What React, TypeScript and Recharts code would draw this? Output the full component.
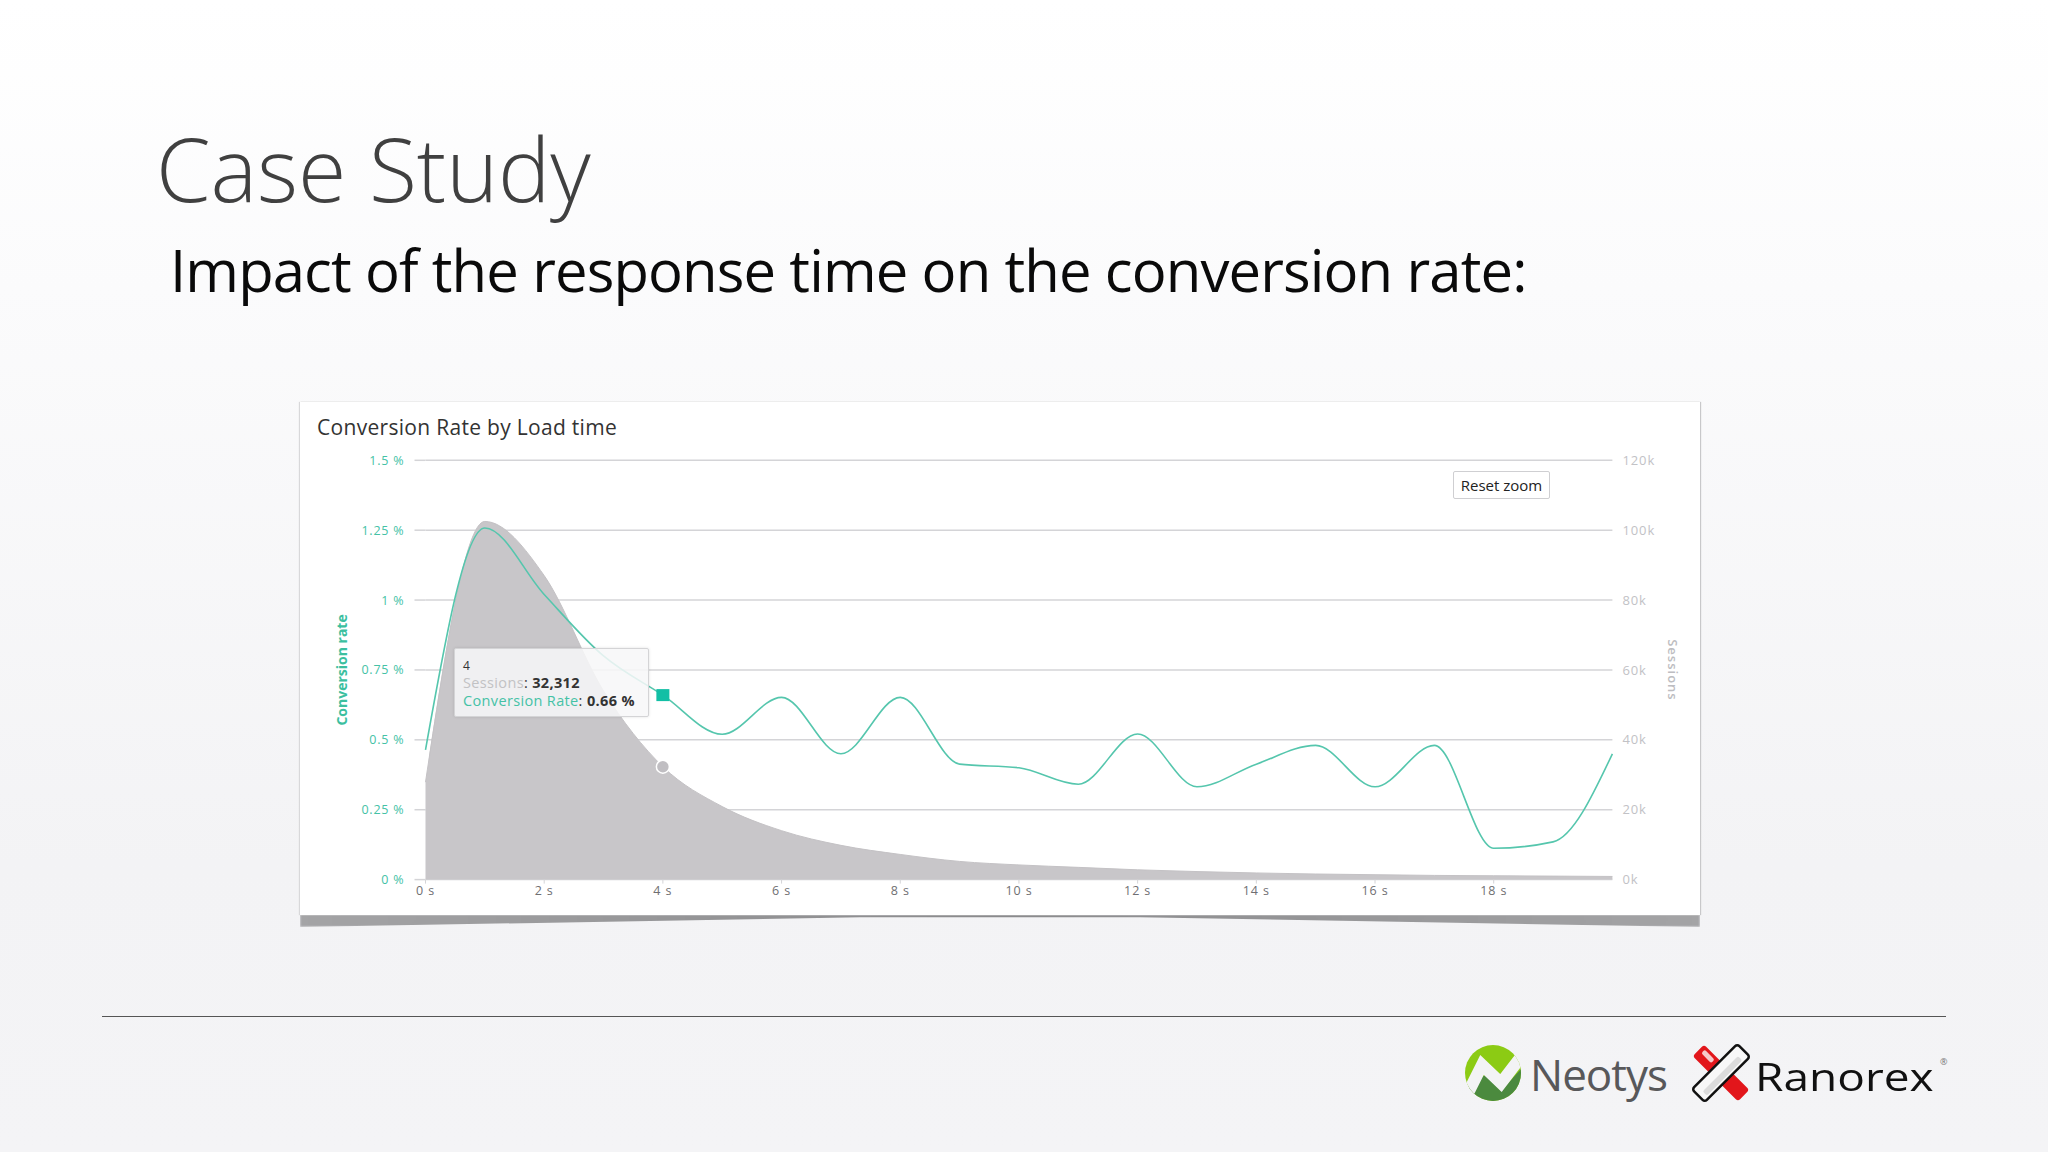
import React from 'react';
import {
  ComposedChart,
  Area,
  Line,
  CartesianGrid,
  XAxis,
  YAxis,
  Tooltip,
} from 'recharts';

const seconds = [0, 1, 2, 3, 4, 5, 6, 7, 8, 9, 10, 11, 12, 13, 14, 15, 16, 17, 18, 19, 20];
const conversionRate = [
  0.464, 1.258, 1.02, 0.8, 0.66, 0.52, 0.652, 0.45, 0.652, 0.413, 0.4, 0.341, 0.521, 0.332,
  0.413, 0.48, 0.332, 0.48, 0.112, 0.135, 0.45,
];
const sessions = [
  27900, 102500, 87000, 54000, 32312, 20900, 14000, 9800, 7200, 5200, 4200, 3500, 2800, 2300,
  1900, 1600, 1400, 1200, 1100, 1000, 900,
];
const xTicks = [0, 2, 4, 6, 8, 10, 12, 14, 16, 18];
const rateTicks = [0, 0.25, 0.5, 0.75, 1, 1.25, 1.5];
const sessionTicks = [0, 20000, 40000, 60000, 80000, 100000, 120000];

const data = seconds.map((s, i) => ({
  s,
  rate: conversionRate[i],
  sessions: sessions[i],
}));

const font = '"Open Sans", sans-serif';
const teal = '#45c2a6';
const gridColor = '#d4d4d7';

const abs = (left: number, top: number): React.CSSProperties => ({
  position: 'absolute',
  left,
  top,
  whiteSpace: 'nowrap',
  fontFamily: font,
});

const ChartTooltip = ({ payload }: any) => {
  const row = payload && payload[0] ? payload[0].payload : data[4];
  return (
    <div
      style={{
        width: 195,
        height: 69,
        boxSizing: 'border-box',
        padding: '9px 0 0 8px',
        background: 'rgba(247,247,248,0.86)',
        border: '1px solid #d4d4d6',
        borderRadius: 2,
        boxShadow: '0 0 3px rgba(0,0,0,0.12)',
        fontFamily: font,
        fontSize: 14.5,
        letterSpacing: 0.35,
        lineHeight: '17.5px',
        color: '#333',
        whiteSpace: 'nowrap',
      }}
    >
      <div style={{ fontSize: 12, lineHeight: '16px' }}>{row.s}</div>
      <div>
        <span style={{ color: '#c2c2c4' }}>Sessions</span>:{' '}
        <b>{row.sessions.toLocaleString('en-US')}</b>
      </div>
      <div>
        <span style={{ color: teal }}>Conversion Rate</span>: <b>{row.rate} %</b>
      </div>
    </div>
  );
};

const SquareDot = ({ cx, cy }: any) => (
  <rect x={cx - 6.5} y={cy - 6} width={13} height={12} fill="#12bfa5" stroke="none" />
);

const NeotysMark = () => (
  <svg style={{ position: 'absolute', left: 1465, top: 1045 }} width={56} height={56} viewBox="0 0 56 56">
    <defs>
      <clipPath id="neo">
        <circle cx={28} cy={28} r={28} />
      </clipPath>
    </defs>
    <g clipPath="url(#neo)">
      <rect width={56} height={56} fill="#8ccb14" />
      <polygon points="0,44 20,30 36,46 56,24 56,56 0,56" fill="#4b8a3e" />
      <polyline points="4,46 17,20 36,38 56,12" fill="none" stroke="#f3f3f5" strokeWidth={12} />
    </g>
  </svg>
);

const RanorexMark = () => (
  <svg style={{ position: 'absolute', left: 1691, top: 1043 }} width={60} height={60} viewBox="0 0 60 60">
    <g transform="rotate(45 30 30)">
      <rect x={-2} y={22} width={64} height={16} rx={3} fill="#e2161b" />
      <rect x={2} y={25} width={14} height={5} rx={2} fill="#f6c9ca" />
    </g>
    <g transform="rotate(-45 30 30)">
      <rect x={-2} y={21} width={64} height={18} rx={3} fill="#f8f8f8" stroke="#111" strokeWidth={2.5} />
      <rect x={4} y={30} width={50} height={6} rx={2} fill="#dcdcdc" />
    </g>
  </svg>
);

export default function App() {
  return (
    <div
      style={{
        position: 'absolute',
        left: 0,
        top: 0,
        width: 2048,
        height: 1152,
        overflow: 'hidden',
        background: 'linear-gradient(#ffffff 0%, #fbfbfc 25%, #f3f3f5 75%, #f4f4f6 100%)',
      }}
    >
      <div style={{ ...abs(156, 108), fontSize: 88, fontWeight: 300, color: '#404040', letterSpacing: -0.1 }}>
        Case Study
      </div>
      <div style={{ ...abs(170, 230), fontSize: 58, letterSpacing: -0.88, color: '#0a0a0a' }}>
        Impact of the response time on the conversion rate:
      </div>

      {/* card with the skewed shadow under it */}
      <div
        style={{
          position: 'absolute',
          left: 300,
          top: 914,
          width: 1400,
          height: 13,
          background: 'linear-gradient(90deg, #a4a4a6, #8a8a8c 50%, #a4a4a6)',
          clipPath: 'polygon(0 0, 100% 0, 100% 100%, 60% 25%, 40% 25%, 0 100%)',
          filter: 'blur(0.8px)',
        }}
      />
      <div
        style={{
          position: 'absolute',
          left: 300,
          top: 402,
          width: 1400,
          height: 513,
          background: '#fff',
          boxShadow: '1px 0 1px #c8c8ca, -1px 0 1px #d8d8da',
        }}
      >
        <ComposedChart
          width={1400}
          height={513}
          data={data}
          margin={{ top: 58.3, right: 0, bottom: 5.4, left: 0 }}
        >
          <CartesianGrid horizontal vertical={false} yAxisId="rate" stroke={gridColor} strokeWidth={1.5} />
          <XAxis
            dataKey="s"
            type="number"
            domain={[0, 20]}
            ticks={xTicks}
            tickFormatter={(v: number) => `${v} s`}
            height={30}
            axisLine={false}
            tickSize={4}
            tickMargin={3}
            tickLine={{ stroke: gridColor }}
            tick={{ fill: '#6f6f72', fontSize: 12.5, fontFamily: font, letterSpacing: 0.9 }}
          />
          <YAxis
            yAxisId="rate"
            orientation="left"
            domain={[0, 1.5]}
            ticks={rateTicks}
            width={125.5}
            axisLine={false}
            tickSize={11}
            tickMargin={10}
            tickLine={{ stroke: gridColor, strokeWidth: 1.5 }}
            tickFormatter={(v: number) => `${v} %`}
            tick={{ fill: teal, fontSize: 12.5, fontFamily: font, letterSpacing: 0.8 }}
            label={{
              value: 'Conversion rate',
              angle: -90,
              position: 'insideLeft',
              offset: 42,
              style: { textAnchor: 'middle', fill: '#3cbf9f', fontSize: 14, fontWeight: 700, fontFamily: font },
            }}
          />
          <YAxis
            yAxisId="sessions"
            orientation="right"
            domain={[0, 120000]}
            ticks={sessionTicks}
            width={87.6}
            axisLine={false}
            tickLine={false}
            tickSize={0}
            tickMargin={10}
            tickFormatter={(v: number) => `${v / 1000}k`}
            tick={{ fill: '#c2c2c6', fontSize: 13, fontFamily: font, letterSpacing: 0.9 }}
            label={{
              value: 'Sessions',
              angle: 90,
              position: 'insideRight',
              offset: 27,
              style: { textAnchor: 'middle', fill: '#bdbdc1', fontSize: 13, fontWeight: 600, fontFamily: font, letterSpacing: 1 },
            }}
          />
          <Area
            yAxisId="sessions"
            dataKey="sessions"
            type="monotone"
            fill="#c8c6c9"
            fillOpacity={1}
            stroke="#c4c2c5"
            strokeWidth={1}
            isAnimationActive={false}
            activeDot={{ r: 6.5, fill: '#c0bec2', stroke: '#fff', strokeWidth: 1.5 }}
          />
          <Line
            yAxisId="rate"
            dataKey="rate"
            type="monotone"
            stroke="#55c6ad"
            strokeWidth={1.6}
            dot={false}
            isAnimationActive={false}
            activeDot={<SquareDot />}
          />
          <Tooltip
            defaultIndex={4}
            active
            cursor={false}
            isAnimationActive={false}
            position={{ x: 154, y: 246 }}
            content={<ChartTooltip />}
            wrapperStyle={{ outline: 'none' }}
          />
        </ComposedChart>
        <div style={{ ...abs(17, 11), fontSize: 21, letterSpacing: 0.3, color: '#333' }}>
          Conversion Rate by Load time
        </div>
        <div
          style={{
            ...abs(1153, 69),
            width: 97,
            height: 28,
            boxSizing: 'border-box',
            border: '1px solid #cfcfd2',
            borderRadius: 2,
            background: '#fff',
            textAlign: 'center',
            fontSize: 15,
            lineHeight: '26px',
            color: '#222',
          }}
        >
          Reset zoom
        </div>
      </div>

      <div style={{ position: 'absolute', left: 102, top: 1016, width: 1844, height: 1, background: '#555' }} />

      <NeotysMark />
      <div style={{ ...abs(1530, 1044), fontSize: 44, color: '#58585a', letterSpacing: -1 }}>Neotys</div>
      <RanorexMark />
      <div
        style={{
          ...abs(1755, 1049),
          fontSize: 39,
          color: '#111',
          fontWeight: 500,
          transform: 'scaleX(1.18)',
          transformOrigin: 'left center',
        }}
      >
        Ranorex
      </div>
      <div style={{ ...abs(1940, 1055), fontSize: 9, color: '#777' }}>®</div>
    </div>
  );
}
